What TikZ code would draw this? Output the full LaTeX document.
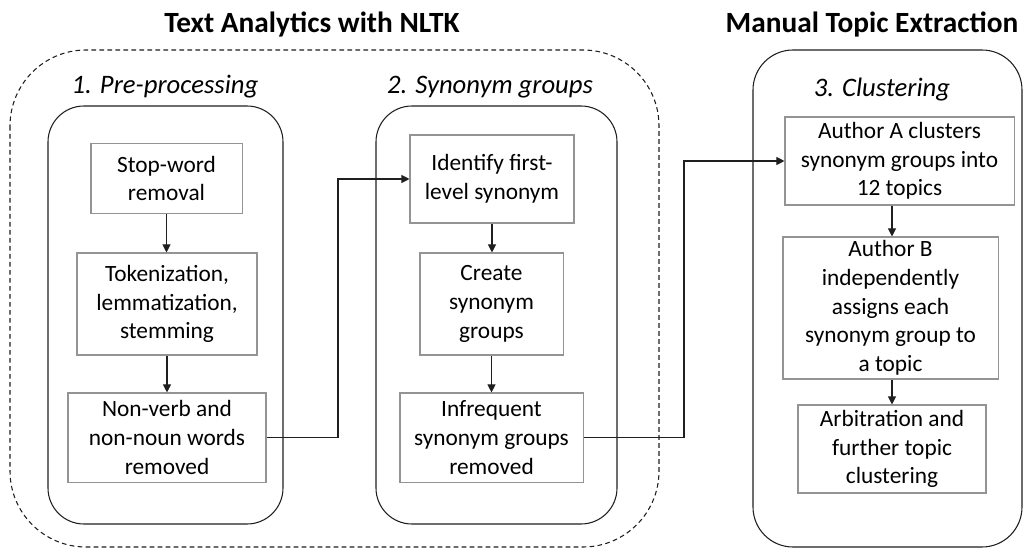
\documentclass[tikz,border=0pt]{standalone}
\usepackage{fontspec}
\setmainfont{Carlito}
\usetikzlibrary{arrows.meta}

\tikzset{
  procbox/.style={draw=black!42, line width=0.8pt, align=center, inner sep=0pt,
    font=\fontsize{17.5}{21.5}\selectfont},
  stagelabel/.style={font=\fontsize{20}{24}\selectfont\itshape},
  grouptitle/.style={font=\fontsize{22}{26}\selectfont\bfseries},
}

\begin{document}
\begin{tikzpicture}[x=0.75pt,y=-0.75pt,>={Triangle[length=6pt,width=6pt]},line width=0.8pt,draw=black!88]
\useasboundingbox (0,0) rectangle (1025,549);
% group frames
\draw[dash pattern=on 3.5pt off 2.5pt,rounded corners=57pt] (10,50) rectangle (659,547);
\draw[rounded corners=27pt] (48,106) rectangle (283,524);
\draw[rounded corners=27pt] (376,106) rectangle (617,524);
\draw[rounded corners=30pt] (753,50) rectangle (1022,547);

\node[grouptitle] (titleNLTK) at (312,24) {Text Analytics with NLTK};
\node[grouptitle] (titleManual) at (872,24) {Manual Topic Extraction};
\node[stagelabel] (labPre) at (165,87) {1. Pre-processing};
\node[stagelabel] (labSyn) at (490,87) {2. Synonym groups};
\node[stagelabel] (labClu) at (882,90) {3. Clustering};

% 1. pre-processing
\node[procbox,minimum width=113.3pt,minimum height=52pt] (stopword) at (166.5,178.5) {Stop-word\\removal};
\node[procbox,minimum width=135pt,minimum height=76.5pt] (tokenize) at (167,304) {Tokenization,\\lemmatization,\\stemming};
\node[procbox,minimum width=148.5pt,minimum height=66.8pt] (filterpos) at (167,437.5) {Non-verb and\\non-noun words\\removed};
% 2. synonym groups
\node[procbox,minimum width=123pt,minimum height=66pt] (firstsyn) at (492,179) {Identify first-\\level synonym};
\node[procbox,minimum width=107.3pt,minimum height=76.5pt] (syngroups) at (491.5,304) {Create\\synonym\\groups};
\node[procbox,minimum width=137.3pt,minimum height=66.8pt] (infrequent) at (491.5,437.5) {Infrequent\\synonym groups\\removed};
% 3. clustering
\node[procbox,minimum width=171.8pt,minimum height=66pt] (authorA) at (899.5,161) {Author A clusters\\synonym groups into\\12 topics};
\node[procbox,minimum width=161.3pt,minimum height=106.5pt] (authorB) at (890.5,308) {Author B\\independently\\assigns each\\synonym group to\\a topic};
\node[procbox,minimum width=141pt,minimum height=66pt] (arbitrate) at (892,449) {Arbitration and\\further topic\\clustering};

\draw[->] (stopword.south) -- (stopword.south |- tokenize.north);
\draw[->] (tokenize.south) -- (tokenize.south |- filterpos.north);
\draw[->] (firstsyn.south) -- (firstsyn.south |- syngroups.north);
\draw[->] (syngroups.south) -- (syngroups.south |- infrequent.north);
\draw[->] (authorA.south -| arbitrate) -- (authorB.north -| arbitrate);
\draw[->] (authorB.south -| arbitrate) -- (arbitrate.north);

\coordinate (bendA) at (338,0);
\coordinate (bendB) at (684,0);
\draw[->] (filterpos.east) -- (filterpos.east -| bendA) |- (firstsyn.west);
\draw[->] (infrequent.east) -- (infrequent.east -| bendB) |- (authorA.west);
\end{tikzpicture}
\end{document}
